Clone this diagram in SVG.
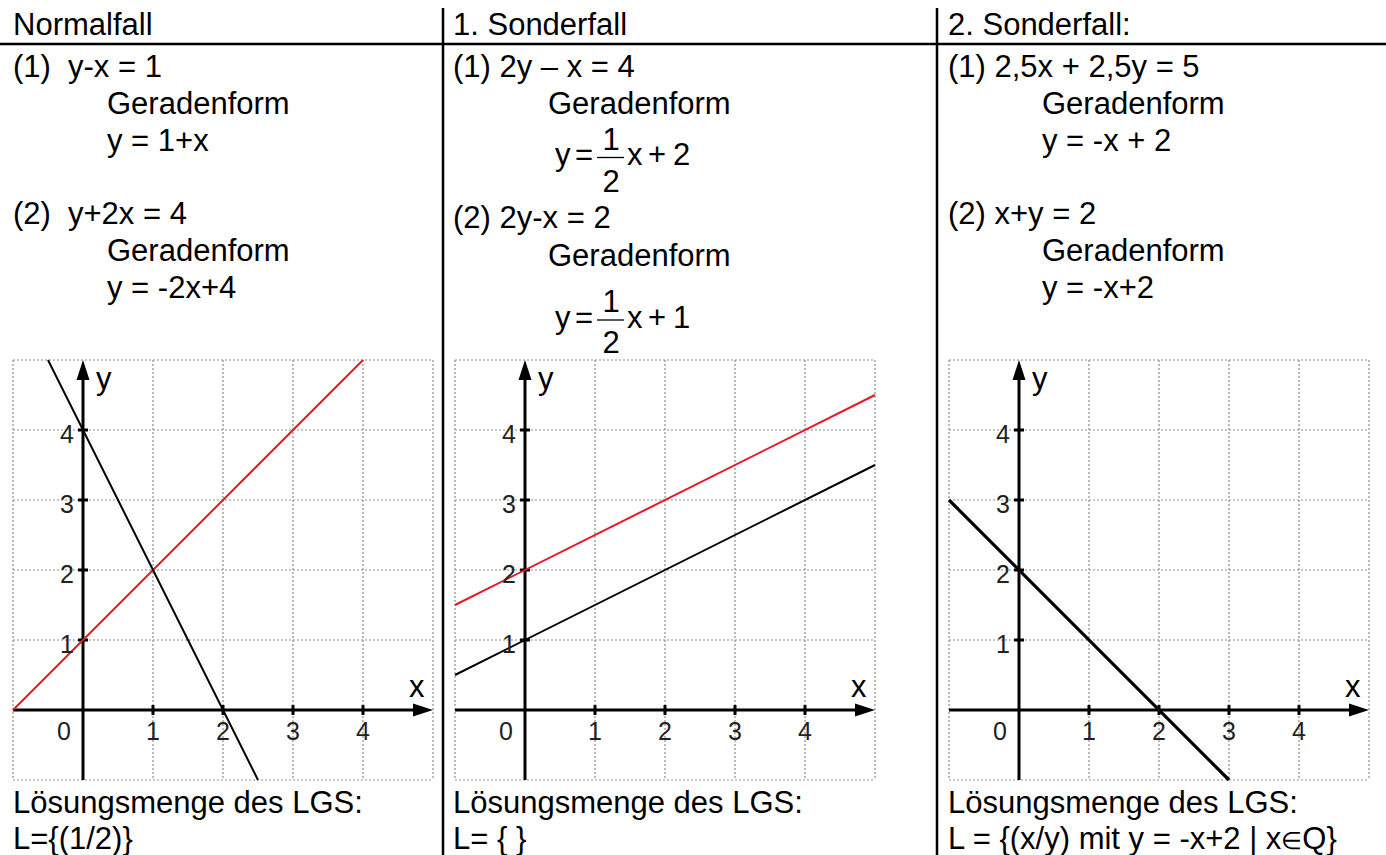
<svg xmlns="http://www.w3.org/2000/svg" xmlns:xlink="http://www.w3.org/1999/xlink" width="1386" height="855" viewBox="0 0 1386 855">
<style>
.t{font-family:"Liberation Sans",Arial,sans-serif;font-size:31px;fill:#000}
.n{font-family:"Liberation Sans",Arial,sans-serif;font-size:25px;fill:#222}
.lab{font-family:"Liberation Sans",Arial,sans-serif;font-size:31px;fill:#000}
.grid{fill:none;stroke:#8c8c8c;stroke-width:1.2;stroke-dasharray:2 2}
.axis{fill:none;stroke:#000;stroke-width:3}
.tick{fill:none;stroke:#000;stroke-width:3}
.sep{stroke:#000;stroke-width:2.5;fill:none}
.red{stroke:#e01b24;stroke-width:2;fill:none}
.blk{stroke:#000;stroke-width:2;fill:none}
.thick{stroke:#000;stroke-width:3.2;fill:none}
.bar{stroke:#000;stroke-width:1.3}
</style>
<defs>
<g id="plot">
<path class="grid" d="M-70,-350V70 M70,-350V70 M140,-350V70 M210,-350V70 M280,-350V70 M350,-350V70 M-70,-350H350 M-70,-280H350 M-70,-210H350 M-70,-140H350 M-70,-70H350 M-70,70H350"/>
<path class="axis" d="M0,70V-334 M-70,0H334"/>
<path d="M0,-350 L-6.5,-330 L6.5,-330Z M350,0 L330,-6.5 L330,6.5Z" fill="#000"/>
<path class="tick" d="M70,-5V5 M140,-5V5 M210,-5V5 M280,-5V5 M-5,-70H5 M-5,-140H5 M-5,-210H5 M-5,-280H5"/>
</g>
</defs>
<rect width="1386" height="855" fill="#fff"/>

<g id="separators">
<line class="sep" x1="0" y1="44" x2="1386" y2="44"/>
<line class="sep" x1="443" y1="8" x2="443" y2="855"/>
<line class="sep" x1="937" y1="8" x2="937" y2="855"/>
</g>

<g id="col-normalfall">
<text class="t" x="13" y="35">Normalfall</text>
<text class="t" y="77"><tspan x="13">(1)</tspan><tspan x="68">y-x = 1</tspan></text>
<text class="t" x="107" y="114">Geradenform</text>
<text class="t" x="107" y="151">y = 1+x</text>
<text class="t" y="224"><tspan x="13">(2)</tspan><tspan x="68">y+2x = 4</tspan></text>
<text class="t" x="107" y="261">Geradenform</text>
<text class="t" x="107" y="298">y = -2x+4</text>
<text class="t" x="13" y="813">Lösungsmenge des LGS:</text>
<text class="t" x="13" y="849">L={(1/2)}</text>
</g>

<g id="graph-normalfall">
<use xlink:href="#plot" href="#plot" x="83" y="710"/>
<line class="red" x1="13" y1="710" x2="363" y2="360"/>
<line class="blk" x1="48" y1="360" x2="258" y2="780"/>
<text class="lab" x="96" y="389">y</text>
<text class="lab" x="409" y="697">x</text>
<g class="n" text-anchor="end">
<text x="74" y="653">1</text><text x="74" y="583">2</text><text x="74" y="513">3</text><text x="74" y="443">4</text>
</g>
<g class="n" text-anchor="middle">
<text x="64" y="740">0</text><text x="153" y="740">1</text><text x="223" y="740">2</text><text x="293" y="740">3</text><text x="363" y="740">4</text>
</g>
</g>

<g id="col-sonderfall1">
<text class="t" x="453" y="35">1. Sonderfall</text>
<text class="t" x="453" y="77">(1) 2y – x = 4</text>
<text class="t" x="548" y="114">Geradenform</text>
<g id="formula1">
<text class="t" x="555" y="165">y</text>
<text class="t" x="575" y="165">=</text>
<line class="bar" x1="597" y1="157.5" x2="624" y2="157.5"/>
<text class="t" x="611" y="150" text-anchor="middle">1</text>
<text class="t" x="611" y="192" text-anchor="middle">2</text>
<text class="t" x="627" y="165">x</text>
<text class="t" x="648" y="165">+</text>
<text class="t" x="673" y="165">2</text>
</g>
<text class="t" x="453" y="228">(2) 2y-x = 2</text>
<text class="t" x="548" y="266">Geradenform</text>
<g id="formula2">
<text class="t" x="555" y="328">y</text>
<text class="t" x="575" y="328">=</text>
<line class="bar" x1="597" y1="320" x2="624" y2="320"/>
<text class="t" x="611" y="312" text-anchor="middle">1</text>
<text class="t" x="611" y="353" text-anchor="middle">2</text>
<text class="t" x="627" y="328">x</text>
<text class="t" x="648" y="328">+</text>
<text class="t" x="673" y="328">1</text>
</g>
<text class="t" x="453" y="813">Lösungsmenge des LGS:</text>
<text class="t" x="453" y="849">L= { }</text>
</g>

<g id="graph-sonderfall1">
<use xlink:href="#plot" href="#plot" x="525" y="710"/>
<line class="red" x1="455" y1="605" x2="875" y2="395"/>
<line class="blk" x1="455" y1="675" x2="875" y2="465"/>
<text class="lab" x="538" y="389">y</text>
<text class="lab" x="851" y="697">x</text>
<g class="n" text-anchor="end">
<text x="516" y="653">1</text><text x="516" y="583">2</text><text x="516" y="513">3</text><text x="516" y="443">4</text>
</g>
<g class="n" text-anchor="middle">
<text x="506" y="740">0</text><text x="595" y="740">1</text><text x="665" y="740">2</text><text x="735" y="740">3</text><text x="805" y="740">4</text>
</g>
</g>

<g id="col-sonderfall2">
<text class="t" x="948" y="35">2. Sonderfall:</text>
<text class="t" x="948" y="77">(1) 2,5x + 2,5y = 5</text>
<text class="t" x="1042" y="114">Geradenform</text>
<text class="t" x="1042" y="151">y = -x + 2</text>
<text class="t" x="948" y="224">(2) x+y = 2</text>
<text class="t" x="1042" y="261">Geradenform</text>
<text class="t" x="1042" y="298">y = -x+2</text>
<text class="t" x="948" y="813">Lösungsmenge des LGS:</text>
<text class="t" x="948" y="849">L = {(x/y) mit y = -x+2 | x<tspan font-size="24px">∈</tspan>Q}</text>
</g>

<g id="graph-sonderfall2">
<use xlink:href="#plot" href="#plot" x="1019" y="710"/>
<line class="thick" x1="949" y1="500" x2="1229" y2="780"/>
<text class="lab" x="1032" y="389">y</text>
<text class="lab" x="1345" y="697">x</text>
<g class="n" text-anchor="end">
<text x="1010" y="653">1</text><text x="1010" y="583">2</text><text x="1010" y="513">3</text><text x="1010" y="443">4</text>
</g>
<g class="n" text-anchor="middle">
<text x="1000" y="740">0</text><text x="1089" y="740">1</text><text x="1159" y="740">2</text><text x="1229" y="740">3</text><text x="1299" y="740">4</text>
</g>
</g>
</svg>
